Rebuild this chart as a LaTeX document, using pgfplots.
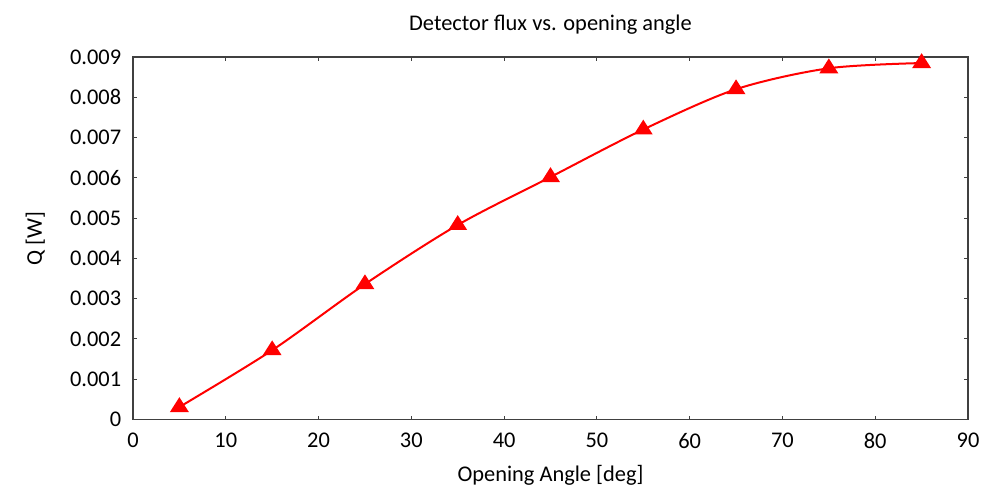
\documentclass[border=0pt]{standalone}
\usepackage{pgfplots}
\pgfplotsset{compat=1.18}
\usepackage{fontspec}
\setmainfont{Carlito}

\definecolor{axisgray}{RGB}{64,64,64}

\begin{document}
\fontsize{11.2pt}{13pt}\selectfont
\begin{tikzpicture}
\begin{axis}[
    scale only axis,
    width=417.5pt,
    height=181.25pt,
    xmin=0, xmax=90,
    ymin=0, ymax=0.009,
    xtick={0,10,...,90},
    ytick={0,0.001,0.002,0.003,0.004,0.005,0.006,0.007,0.008,0.009},
    yticklabels={0,0.001,0.002,0.003,0.004,0.005,0.006,0.007,0.008,0.009},
    scaled y ticks=false,
    /pgf/number format/assume math mode=true,
    tick align=inside,
    major tick length=2pt,
    tick style={axisgray, line width=0.5pt},
    axis line style={axisgray, line width=0.6pt},
    ticklabel style={font=\fontsize{11.2pt}{13pt}\selectfont},
    xticklabel style={yshift=-3pt},
    yticklabel style={xshift=-2pt},
    title={Detector flux vs. opening angle},
    title style={at={(axis description cs:0.5,1.041)}, anchor=base},
    xlabel={Opening Angle [deg]},
    xlabel style={at={(axis description cs:0.5,-0.153)}, anchor=center},
    ylabel={Q [W]},
    ylabel style={at={(axis description cs:-0.117,0.5)}, anchor=center},
]
\addplot[red, line width=1pt, smooth, mark=triangle*,
    mark size=4pt, mark options={solid, fill=red, xscale=1.1}] coordinates {
    (5,0.00031) (15,0.00172) (25,0.00336) (35,0.00483) (45,0.00602)
    (55,0.00720) (65,0.00820) (75,0.00872) (85,0.00885)
};
\end{axis}
\pgfresetboundingbox
\useasboundingbox ([xshift=-66.5pt,yshift=-38.25pt]current axis.south west)
    rectangle ([xshift=8.5pt,yshift=28.5pt]current axis.north east);
\end{tikzpicture}
\end{document}
